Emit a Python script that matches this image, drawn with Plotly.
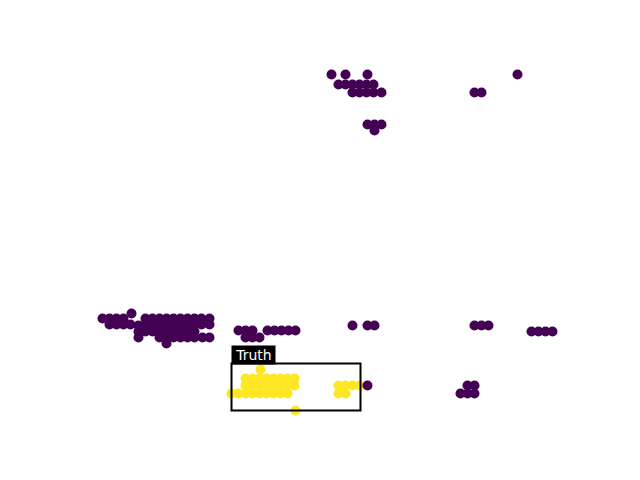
import plotly.graph_objects as go

# Data (x, y) in chart units
purple_x = [331, 345, 367, 517,
            338, 345, 352, 359, 366, 373,
            352, 359, 366, 373, 381, 474, 481,
            367, 374, 381, 374,
            131,
            102, 109, 116, 123, 145, 152, 159, 166, 173, 180, 187, 194, 201, 209,
            109, 116, 123, 130, 138, 145, 152, 159, 166, 173, 180, 187, 194, 201, 209,
            138, 145, 152, 159, 166, 173, 180, 187, 194,
            138, 159, 166, 173, 180, 187, 194, 202, 209,
            166,
            238, 245, 252, 267, 274, 281, 288, 295,
            245, 252, 259,
            352, 367, 374, 474, 481, 488,
            531, 538, 545, 552,
            367, 467, 474, 460, 467, 474]
purple_y = [406, 406, 406, 406,
            396, 396, 396, 396, 396, 396,
            388, 388, 388, 388, 388, 388, 388,
            356, 356, 356, 350,
            167,
            162, 162, 162, 162, 162, 162, 162, 162, 162, 162, 162, 162, 162, 162,
            156, 156, 156, 156, 155, 156, 156, 156, 156, 156, 156, 156, 156, 156, 156,
            149, 149, 149, 149, 149, 149, 149, 149, 149,
            143, 143, 143, 143, 143, 143, 143, 143, 143,
            137,
            150, 150, 150, 150, 150, 150, 150, 150,
            143, 143, 143,
            155, 155, 155, 155, 155, 155,
            149, 149, 149, 149,
            95, 95, 95, 87, 87, 87]

yellow_x = [260,
            245, 252, 259, 266, 273, 280, 287, 294,
            245, 252, 259, 266, 273, 280, 287, 294,
            231, 238, 245, 252, 259, 266, 273, 280, 287,
            295,
            338, 345, 352, 359, 338, 345]
yellow_y = [111,
            102, 102, 102, 102, 102, 102, 102, 102,
            95, 95, 95, 95, 95, 95, 95, 95,
            87, 87, 87, 87, 87, 87, 87, 87, 87,
            70,
            95, 95, 95, 95, 87, 87]

truth_box = [231, 70, 360, 117]  # x0, y0, x1, y1
truth_label = "Truth"

fig = go.Figure()
fig.add_trace(go.Scatter(x=yellow_x, y=yellow_y, mode="markers",
                         marker=dict(color="#fde725", size=10, line=dict(width=0)),
                         hoverinfo="skip"))
fig.add_trace(go.Scatter(x=purple_x, y=purple_y, mode="markers",
                         marker=dict(color="#440154", size=10, line=dict(width=0)),
                         hoverinfo="skip"))

fig.add_shape(type="rect", x0=truth_box[0], y0=truth_box[1], x1=truth_box[2], y1=truth_box[3],
              line=dict(color="black", width=2), fillcolor="rgba(0,0,0,0)", layer="above")
fig.add_annotation(x=truth_box[0], y=truth_box[3], xref="x", yref="y", text=truth_label,
                   showarrow=False, xanchor="left", yanchor="bottom", xshift=-1, yshift=-1,
                   width=41, height=16, align="center", valign="middle",
                   font=dict(family="DejaVu Sans", size=14, color="white"),
                   bgcolor="black", borderpad=1)

fig.update_layout(width=640, height=480, margin=dict(l=0, r=0, t=0, b=0),
                  paper_bgcolor="white", plot_bgcolor="white", showlegend=False,
                  xaxis=dict(range=[-0.5, 639.5], visible=False),
                  yaxis=dict(range=[0.5, 480.5], visible=False))

fig.write_html("out.html")
